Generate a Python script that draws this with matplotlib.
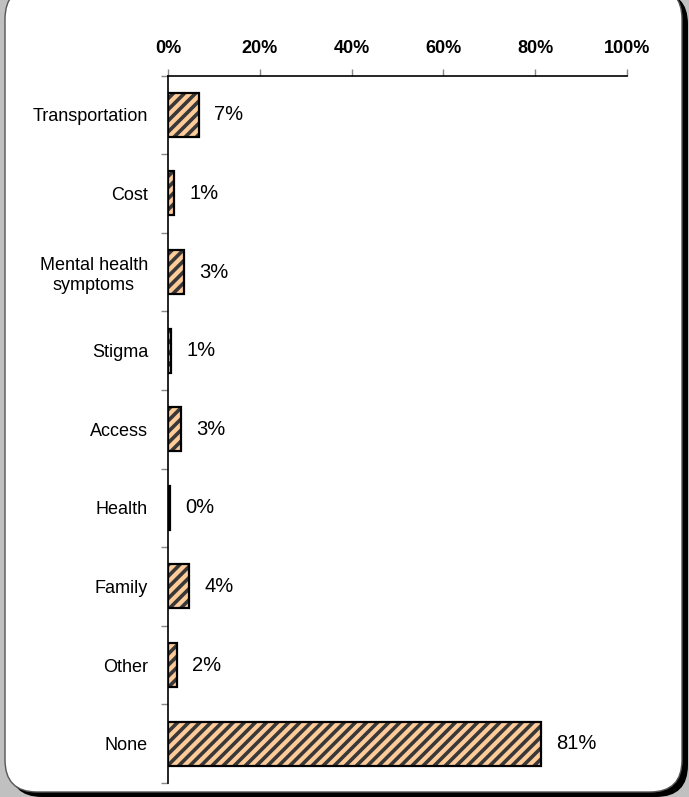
import matplotlib
matplotlib.use("Agg")
import matplotlib.pyplot as plt
from matplotlib.patches import FancyBboxPatch
from matplotlib.transforms import IdentityTransform
import numpy as np

plt.rcParams["font.family"] = ["Liberation Sans", "DejaVu Sans"]
plt.rcParams["hatch.linewidth"] = 2.6

# data
categories = ["Transportation", "Cost", "Mental health\nsymptoms", "Stigma",
              "Access", "Health", "Family", "Other", "None"]
shares = [6.8, 1.3, 3.4, 0.7, 2.8, 0.5, 4.6, 2.0, 81.2]
share_labels = ["7%", "1%", "3%", "1%", "3%", "0%", "4%", "2%", "81%"]
x_ticks = [0, 20, 40, 60, 80, 100]

W, H = 689, 797
fig = plt.figure(figsize=(W / 100, H / 100), dpi=100)
fig.patch.set_facecolor("#c0c0c0")

# rounded white panel with a dark drop shadow (pixel coords)
shadow = FancyBboxPatch((10, 0), 678, 805, boxstyle="round,pad=0,rounding_size=32",
                        transform=IdentityTransform(), facecolor="black",
                        edgecolor="none", zorder=0)
panel = FancyBboxPatch((5, 5), 677, 805, boxstyle="round,pad=0,rounding_size=32",
                       transform=IdentityTransform(), facecolor="white",
                       edgecolor="#555555", linewidth=1.0, zorder=1)
fig.patches.extend([shadow, panel])

ax = fig.add_axes([168 / W, 1 - 783 / H, (627 - 168) / W, (783 - 75.5) / H])
ax.set_facecolor("none")
ax.set_zorder(2)

y = np.arange(len(categories))
# fill + grey hatch, then the black outline on top
ax.barh(y, shares, height=0.56, color="#ffcc99", edgecolor="#383838",
        linewidth=0, hatch="///")
bars = ax.barh(y, shares, height=0.56, color="none", edgecolor="black",
               linewidth=1.6)

for b, lab in zip(bars, share_labels):
    ax.annotate(lab, (b.get_width(), b.get_y() + b.get_height() / 2),
                xytext=(11, 0), textcoords="offset points",
                ha="left", va="center", fontsize=14.5)

ax.set_xlim(0, 100)
ax.set_ylim(len(categories) - 0.5, -0.5)

ax.xaxis.tick_top()
ax.set_xticks(x_ticks)
ax.set_xticklabels([f"{t}%" for t in x_ticks], fontsize=13, fontweight="bold")
ax.tick_params(axis="x", direction="out", length=5, width=1, color="#888888", pad=8.5)

ax.set_yticks(np.arange(-0.5, len(categories), 1.0))
ax.set_yticklabels([])
ax.set_yticks(y, minor=True)
ax.set_yticklabels(categories, minor=True, fontsize=13)
ax.tick_params(axis="y", which="major", direction="out", length=5, width=1, color="#888888")
ax.tick_params(axis="y", which="minor", length=0, pad=14.4)
for t in ax.get_yticklabels(minor=True):
    t.set_multialignment("center")

ax.spines["right"].set_visible(False)
ax.spines["bottom"].set_visible(False)
ax.spines["top"].set_linewidth(1.2)
ax.spines["left"].set_linewidth(1.2)

fig.savefig("out.png", dpi=100, facecolor=fig.get_facecolor())
